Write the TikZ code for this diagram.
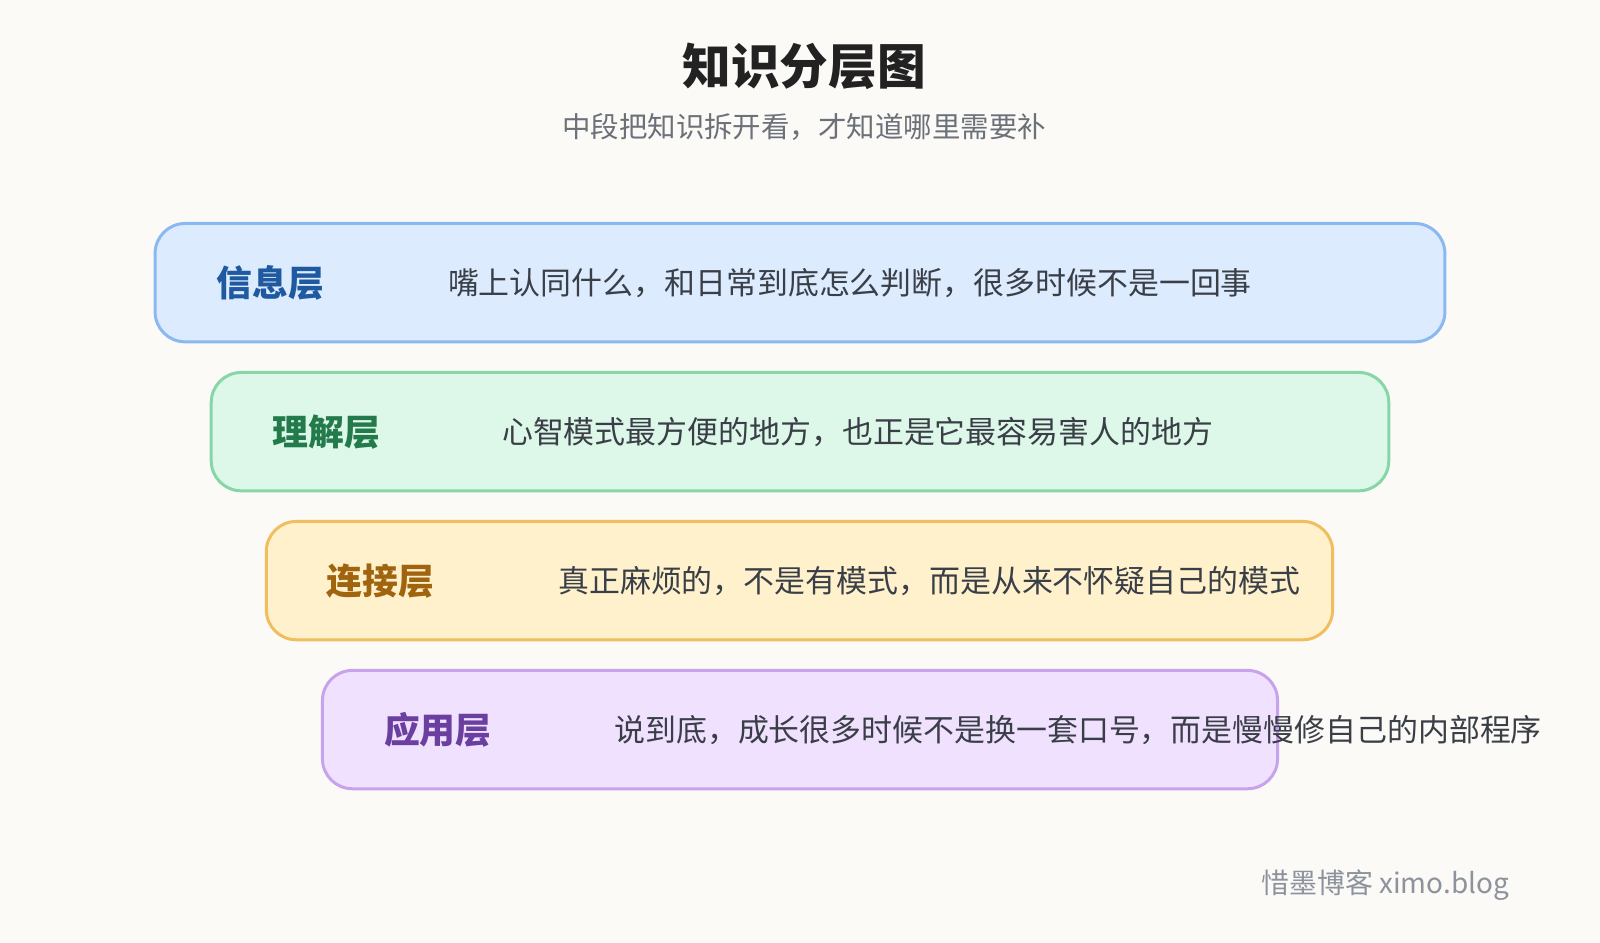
\documentclass[tikz,border=0pt]{standalone}
\usepackage{fontspec}
\setmainfont{Noto Sans CJK SC}
\definecolor{bgcol}{HTML}{FBFAF6}
\definecolor{titlecol}{HTML}{222222}
\definecolor{txtcol}{HTML}{3A3F47}
\definecolor{subcol}{HTML}{6B7079}
\definecolor{markcol}{HTML}{8C939D}
\definecolor{bluefill}{HTML}{DCEBFE}\definecolor{blueline}{HTML}{8AB8F0}\definecolor{bluetxt}{HTML}{1F5AA0}
\definecolor{greenfill}{HTML}{DDF7E8}\definecolor{greenline}{HTML}{86D6A8}\definecolor{greentxt}{HTML}{237A4B}
\definecolor{orangefill}{HTML}{FFF1CC}\definecolor{orangeline}{HTML}{F0BE5E}\definecolor{orangetxt}{HTML}{A0640F}
\definecolor{purplefill}{HTML}{F0E1FE}\definecolor{purpleline}{HTML}{C7A3EE}\definecolor{purpletxt}{HTML}{6B3FA0}
\tikzset{
  layerbox/.style={draw=#1line, fill=#1fill, line width=1.7pt, rounded corners=0.6cm},
  layername/.style={text=#1txt, font=\fontsize{20.4}{24}\selectfont\bfseries},
  layertext/.style={anchor=west, text=txtcol, font=\fontsize{17.6}{21}\selectfont}
}
\begin{document}
\begin{tikzpicture}[x=0.02041cm,y=-0.02041cm]
  % Background
  \fill[bgcol] (0,0) rectangle (1568,924);

  % Title
  \node[text=titlecol] (title) at (788,65) {\fontsize{27.7}{33}\selectfont\bfseries 知识分层图};
  \node[text=subcol] (subtitle) at (788,124) {\fontsize{16.2}{19}\selectfont 中段把知识拆开看，才知道哪里需要补};

  % Layers
  \draw[layerbox=blue] (152,219) rectangle (1416,335);
  \node[layername=blue] (info) at (265,277) {信息层};
  \node[layertext] (infotext) at (433,277) {嘴上认同什么，和日常到底怎么判断，很多时候不是一回事};

  \draw[layerbox=green] (207,365) rectangle (1361,481);
  \node[layername=green] (under) at (320,423) {理解层};
  \node[layertext] (undertext) at (486,423) {心智模式最方便的地方，也正是它最容易害人的地方};

  \draw[layerbox=orange] (261,511) rectangle (1306,627);
  \node[layername=orange] (link) at (373,569) {连接层};
  \node[layertext] (linktext) at (541,569) {真正麻烦的，不是有模式，而是从来不怀疑自己的模式};

  \draw[layerbox=purple] (316,657) rectangle (1252,773);
  \node[layername=purple] (apply) at (429,715) {应用层};
  \node[layertext] (applytext) at (596,715) {说到底，成长很多时候不是换一套口号，而是慢慢修自己的内部程序};

  % Watermark
  \node[anchor=east, text=markcol] (mark) at (1485,867) {\fontsize{15.9}{19}\selectfont 惜墨博客 ximo.blog};
\end{tikzpicture}
\end{document}
